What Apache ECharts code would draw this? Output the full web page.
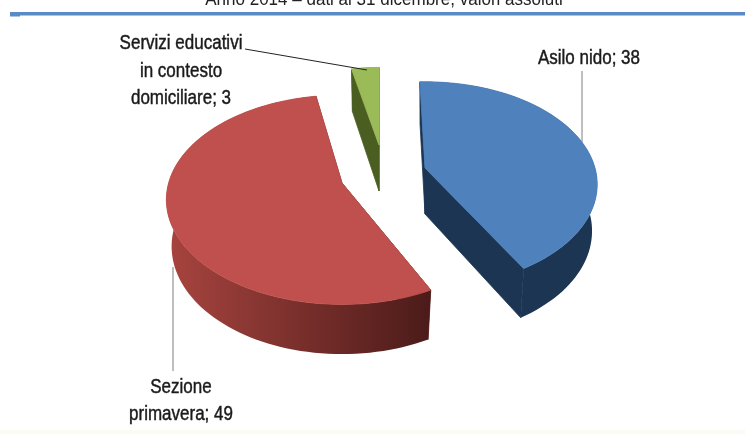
<!DOCTYPE html>
<html><head><meta charset="utf-8">
<style>html,body{margin:0;padding:0;background:#fff}#c{width:745px;height:434px;filter:blur(0.45px)}</style>
<script src="https://cdn.jsdelivr.net/npm/echarts@6/dist/echarts.min.js"></script>
</head><body><div id="c"></div>
<script>
const subtitle = 'Anno 2014 – dati al 31 dicembre, valori assoluti';
const categories = ['Asilo nido', 'Sezione\nprimavera', 'Servizi educativi\nin contesto\ndomiciliare'];
const values = [38, 49, 3];

const topColors = ['#4f81bd', '#bf504d', '#9bbb59'];
const cutColors = ['#1c3553', '#5a2220', '#4a5e22'];
const wallStops = [['#1c3553', '#1c3553'], ['#a8443f', '#4b1b19'], ['#4a5e22', '#4a5e22']];
const centers = [[425, 168], [342, 183], [379, 145]];
const twists = [-2, 2, 0];
const radialScale = [1, 1.02, 0.9];
const labelPos = [[589, 58], [181, 401], [181, 71]];
const leaders = [[[582, 71], [582, 142]], [[173, 267], [173, 371]], [[245, 49], [367, 70]]];
const RX = 170, RY = 100, K = 0.16, THICK = 46, BASE_X = 0.97;
const FONT = '"Liberation Sans",sans-serif';

const total = values.reduce((a, b) => a + b, 0);

function pt(i, deg, drop) {
  const t = deg * Math.PI / 180, u = Math.sin(t), v = -Math.cos(t), w = 1 - K * v;
  const s = radialScale[i], c = centers[i];
  const h = drop ? THICK * (1 + 0.08 * v) : 0;
  const sx = drop ? BASE_X : 1;
  return [c[0] + sx * s * RX * u / w, c[1] + s * RY * v / w + h];
}
function apex(i, drop) { return [centers[i][0], centers[i][1] + (drop ? THICK : 0)]; }
function arc(i, a, b, drop) {
  const out = [], n = Math.max(2, Math.ceil(Math.abs(b - a) / 2));
  for (let j = 0; j <= n; j++) out.push(pt(i, a + (b - a) * j / n, drop));
  return out;
}
function poly(points, fill, z, stroke) {
  return { type: 'polygon', z2: z, silent: true, shape: { points },
    style: { fill, stroke: stroke || null, lineWidth: stroke ? 0.8 : 0 } };
}
function renderSlice(params, api) {
  const i = params.dataIndex;
  const value = api.value(0);
  let before = 0;
  for (let j = 0; j < i; j++) before += values[j];
  const a = before / total * 360 + twists[i];
  const b = a + value / total * 360;
  const top = [apex(i, false)].concat(arc(i, a, b, false));
  const wall = arc(i, a, b, false).concat(arc(i, a, b, true).reverse());
  const cut1 = [apex(i, false), pt(i, a, false), pt(i, a, true), apex(i, true)];
  const cut2 = [apex(i, false), pt(i, b, false), pt(i, b, true), apex(i, true)];
  const wallFill = { type: 'linear', x: 0, y: 0, x2: 1, y2: 0, colorStops: [
    { offset: 0, color: wallStops[i][0] }, { offset: 1, color: wallStops[i][1] } ] };
  const L = leaders[i];
  return { type: 'group', children: [
    poly(cut1, cutColors[i], 1, cutColors[i]),
    poly(cut2, cutColors[i], 1, cutColors[i]),
    poly(wall, wallFill, 2),
    poly(top, topColors[i], 3, topColors[i]),
    { type: 'polyline', z2: 4, silent: true,
      shape: { points: L },
      style: { stroke: i === 2 ? '#222222' : '#7f7f7f', lineWidth: 1, fill: null } },
    { type: 'text', z2: 5, silent: true, x: labelPos[i][0], y: labelPos[i][1], scaleX: 0.85,
      style: { text: categories[i] + '; ' + value, align: 'center', verticalAlign: 'middle',
        font: '20px ' + FONT, lineHeight: 27.5, fill: '#1a1a1a',
        stroke: '#1a1a1a', lineWidth: 0.45 } }
  ] };
}

const chart = echarts.init(document.getElementById('c'), null, { renderer: 'canvas' });
chart.setOption({
  animation: false,
  backgroundColor: '#ffffff',
  graphic: [
    { type: 'rect', silent: true, shape: { x: 0, y: 430, width: 745, height: 4 }, style: { fill: '#fbfbf6' } },
    { type: 'rect', silent: true, shape: { x: 10, y: 12, width: 735, height: 3.5 }, style: { fill: '#5b8bc6' } },
    { type: 'rect', silent: true, shape: { x: 10, y: 14, width: 10, height: 2.5 }, style: { fill: '#5b8bc6' } },
    { type: 'text', silent: true, x: 384, y: 0, scaleX: 0.92,
      style: { text: subtitle, align: 'center', verticalAlign: 'middle', font: '18.5px ' + FONT, fill: '#222222' } }
  ],
  series: [{
    type: 'custom',
    coordinateSystem: 'none',
    clip: false,
    renderItem: renderSlice,
    data: values.map(v => [v]),
    encode: { value: 0 }
  }]
});
</script></body></html>
